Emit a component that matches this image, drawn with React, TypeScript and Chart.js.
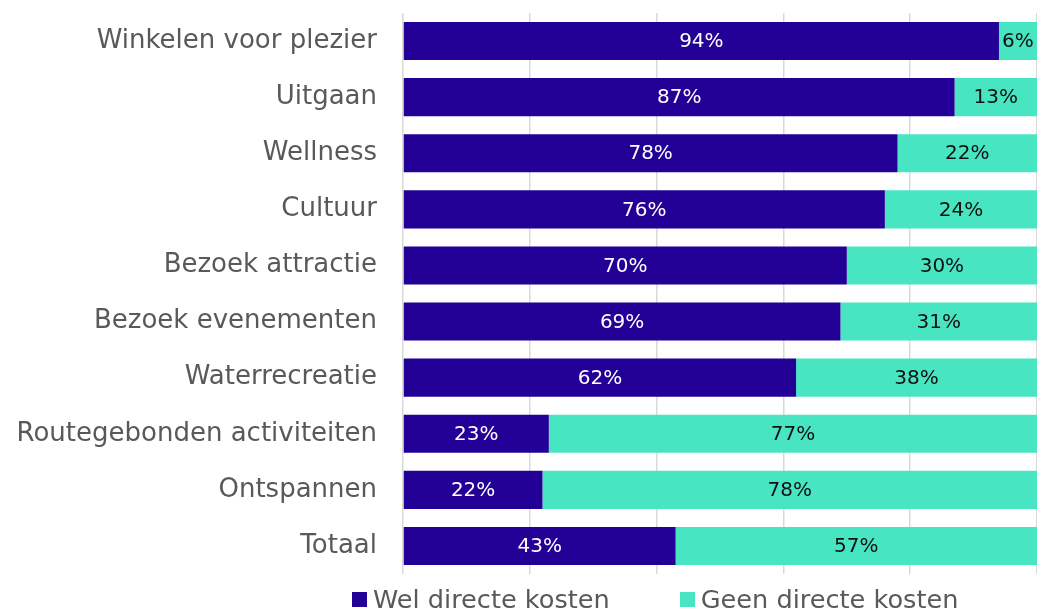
import React, { useEffect, useRef } from "react";
import { Chart, registerables } from "chart.js";

Chart.register(...registerables);

const categories = [
  "Winkelen voor plezier",
  "Uitgaan",
  "Wellness",
  "Cultuur",
  "Bezoek attractie",
  "Bezoek evenementen",
  "Waterrecreatie",
  "Routegebonden activiteiten",
  "Ontspannen",
  "Totaal",
];
const welKosten = [94, 87, 78, 76, 70, 69, 62, 23, 22, 43];
const geenKosten = [6, 13, 22, 24, 30, 31, 38, 77, 78, 57];
const seriesNames = ["Wel directe kosten", "Geen directe kosten"];
const xTicks = [0, 20, 40, 60, 80, 100];

const BLUE = "#230096";
const TEAL = "#48E5C2";
const FONT = "'DejaVu Sans', sans-serif";

const labelPlugin = {
  id: "barLabels",
  afterDatasetsDraw(chart: any) {
    const ctx = chart.ctx;
    ctx.save();
    ctx.font = `20px ${FONT}`;
    ctx.textAlign = "center";
    ctx.textBaseline = "middle";
    chart.data.datasets.forEach((ds: any, di: number) => {
      const meta = chart.getDatasetMeta(di);
      meta.data.forEach((el: any, i: number) => {
        const v = ds.data[i];
        const cx = (el.x + el.base) / 2;
        ctx.fillStyle = di === 0 ? "#ffffff" : "#111111";
        ctx.fillText(`${v}%`, cx, el.y + 1);
      });
    });
    ctx.restore();
  },
};

export default function App() {
  const ref = useRef<HTMLCanvasElement>(null);
  useEffect(() => {
    document.body.style.margin = "0";
    const chart = new Chart(ref.current!, {
      type: "bar",
      data: {
        labels: categories,
        datasets: [
          {
            label: seriesNames[0],
            data: welKosten,
            backgroundColor: BLUE,
            categoryPercentage: 1,
            barPercentage: 0.68,
          },
          {
            label: seriesNames[1],
            data: geenKosten,
            backgroundColor: TEAL,
            categoryPercentage: 1,
            barPercentage: 0.68,
          },
        ],
      },
      options: {
        indexAxis: "y",
        animation: false,
        responsive: false,
        maintainAspectRatio: false,
        layout: { padding: { top: 13, bottom: 36, right: 0, left: 0 } },
        plugins: {
          legend: { display: false },
          tooltip: { enabled: false },
        },
        scales: {
          x: {
            stacked: true,
            min: 0,
            max: 100,
            afterBuildTicks: (scale: any) => {
              scale.ticks = xTicks.map((v) => ({ value: v }));
            },
            afterFit: (scale: any) => {
              scale.height = 0;
              scale.paddingLeft = 0;
              scale.paddingRight = 0;
            },
            ticks: { display: false },
            border: { display: false },
            grid: { color: "#d9d9d9", lineWidth: 1.5, drawTicks: false },
          },
          y: {
            stacked: true,
            afterFit: (scale: any) => {
              scale.width = 403;
              scale.paddingTop = 0;
              scale.paddingBottom = 0;
            },
            border: { display: false },
            grid: { display: false, drawTicks: false },
            ticks: {
              padding: 26,
              color: "#595959",
              font: { family: FONT, size: 26 },
            },
          },
        },
      },
      plugins: [labelPlugin],
    });
    return () => chart.destroy();
  }, []);

  const legendItem = (name: string, color: string, mr: number) => (
    <div style={{ display: "flex", alignItems: "center", marginRight: mr }}>
      <div style={{ width: 15, height: 15, background: color, marginRight: 6 }} />
      <span style={{ fontFamily: FONT, fontSize: 25.6, color: "#595959", lineHeight: "26px" }}>
        {name}
      </span>
    </div>
  );

  return (
    <div style={{ position: "relative", width: 1037, height: 610 }}>
      <canvas ref={ref} width={1037} height={610} style={{ display: "block" }} />
      <div
        style={{
          position: "absolute",
          left: 352,
          top: 586,
          display: "flex",
          whiteSpace: "nowrap",
        }}
      >
        {legendItem(seriesNames[0], BLUE, 70)}
        {legendItem(seriesNames[1], TEAL, 0)}
      </div>
    </div>
  );
}
